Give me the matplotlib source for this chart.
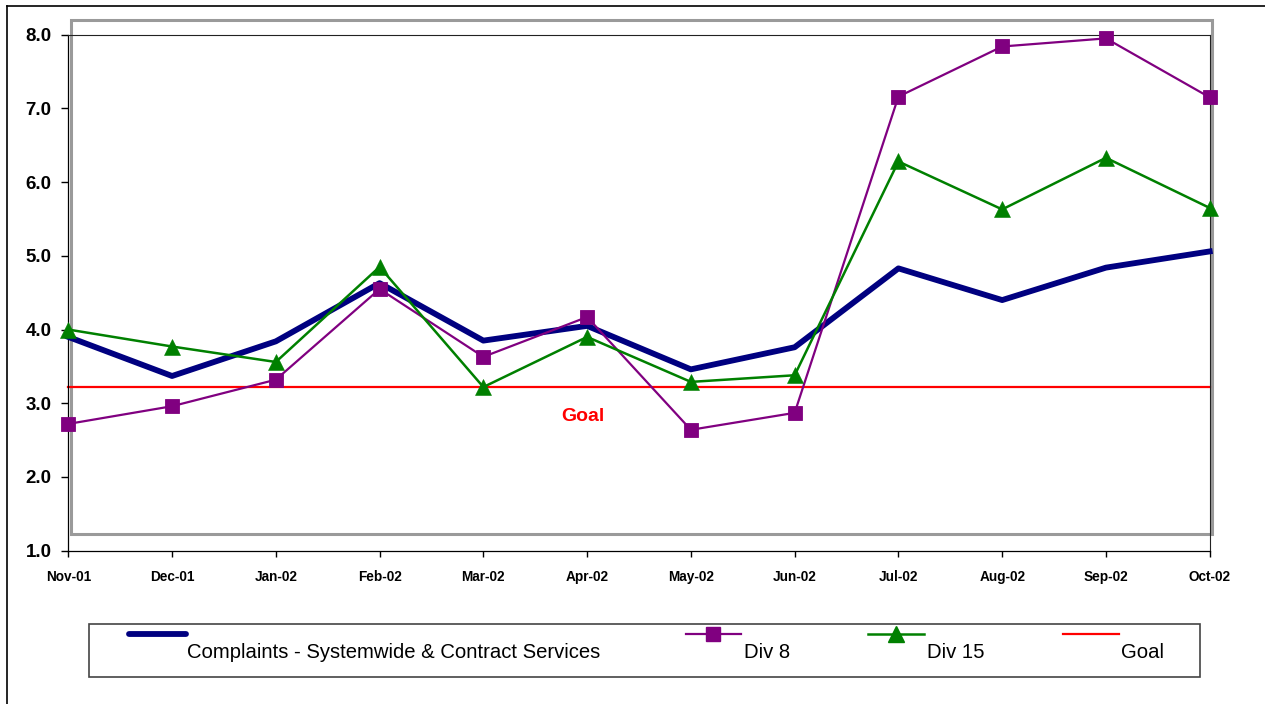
import matplotlib
matplotlib.use("Agg")
import matplotlib.pyplot as plt
from matplotlib.lines import Line2D
from matplotlib.patches import Rectangle

plt.rcParams['font.family'] = ['Liberation Sans', 'DejaVu Sans']

months = ["Nov-01", "Dec-01", "Jan-02", "Feb-02", "Mar-02", "Apr-02",
          "May-02", "Jun-02", "Jul-02", "Aug-02", "Sep-02", "Oct-02"]
systemwide = [3.90, 3.37, 3.84, 4.63, 3.85, 4.05, 3.46, 3.76, 4.83, 4.40, 4.84, 5.06]
div8 = [2.72, 2.96, 3.32, 4.55, 3.63, 4.17, 2.64, 2.87, 7.16, 7.84, 7.95, 7.15]
div15 = [4.00, 3.77, 3.56, 4.85, 3.22, 3.90, 3.29, 3.38, 6.28, 5.63, 6.33, 5.65]
goal = [3.22] * 12
yticks = [1.0, 2.0, 3.0, 4.0, 5.0, 6.0, 7.0, 8.0]

W, H = 1265, 704
fig = plt.figure(figsize=(W / 100, H / 100), dpi=100)


def fx(px):
    return px / W


def fy(py):
    return 1 - py / H


x0, x1, ytop, ybot = 68.3, 1209.7, 34.7, 550.7
ax = fig.add_axes([fx(x0), fy(ybot), fx(x1) - fx(x0), fy(ytop) - fy(ybot)])
ax.set_facecolor('none')

xs = list(range(len(months)))
ax.plot(xs, goal, color='#FF0000', lw=1.6, zorder=2, clip_on=False)
ax.plot(xs, systemwide, color='#000080', lw=4.2, solid_joinstyle='round',
        zorder=3, clip_on=False)
ax.plot(xs, div8, color='#800080', lw=1.6, marker='s', ms=9.5,
        markeredgewidth=0.6, markeredgecolor='#800080', zorder=4, clip_on=False)
ax.plot(xs, div15, color='#008000', lw=1.8, marker='^', ms=11,
        markeredgewidth=0.4, markeredgecolor='#008000', zorder=5, clip_on=False)

ax.set_xlim(0, len(months) - 1)
ax.set_ylim(1.0, 8.0)
ax.set_yticks(yticks)
ax.set_yticklabels([f"{v:.1f}" for v in yticks], fontsize=13.5, fontweight='bold')
ax.set_xticks(xs)
ax.set_xticklabels(months, fontsize=9.8, fontweight='bold')
ax.tick_params(axis='y', direction='out', length=5, width=1, pad=7)
ax.tick_params(axis='x', direction='out', length=4, width=1, pad=10)
for s in ax.spines.values():
    s.set_color('#000000')
    s.set_linewidth(0.9)
for s in ('top', 'right'):
    ax.spines[s].set_color('#222222')
    ax.spines[s].set_linewidth(0.8)

ax.text(5.0 - 0.04, 3.22 - 0.4, "Goal", color='#FF0000', fontsize=14,
        fontweight='bold', ha='center', va='center')

# grey plot-area frame
ax.add_patch(Rectangle((fx(70.5), fy(534)), fx(1211.5) - fx(70.5), fy(19.5) - fy(534),
                       transform=fig.transFigure, fill=False, edgecolor='#9a9a9a',
                       lw=2.2, clip_on=False, zorder=1))

# outer chart border (top and left edges)
fig.add_artist(Line2D([fx(7.5), 1], [fy(6), fy(6)], color='black', lw=1.2))
fig.add_artist(Line2D([fx(7.5), fx(7.5)], [fy(6), 0], color='black', lw=1.2))

# legend box
fig.add_artist(Rectangle((fx(88.5), fy(677)), fx(1200) - fx(88.5), fy(624) - fy(677),
                         transform=fig.transFigure, fill=False, edgecolor='#444444',
                         lw=1.2))
hy = fy(633.5)
ty = fy(657.8)
lfs = 14.6
fig.add_artist(Line2D([fx(128.5), fx(185.5)], [hy, hy], color='#000080', lw=4.2,
                      solid_capstyle='round'))
fig.text(fx(187), ty, "Complaints - Systemwide & Contract Services", fontsize=lfs,
         ha='left', va='baseline')
fig.add_artist(Line2D([fx(685.5), fx(713), fx(741)], [hy, hy, hy], color='#800080',
                      lw=1.6, marker='s', ms=10, markevery=[1]))
fig.text(fx(744), ty, "Div 8", fontsize=lfs, ha='left', va='baseline')
fig.add_artist(Line2D([fx(868), fx(896), fx(924)], [hy, hy, hy], color='#008000',
                      lw=1.8, marker='^', ms=11, markevery=[1]))
fig.text(fx(927), ty, "Div 15", fontsize=lfs, ha='left', va='baseline')
fig.add_artist(Line2D([fx(1063), fx(1119)], [hy, hy], color='#FF0000', lw=1.6))
fig.text(fx(1121), ty, "Goal", fontsize=lfs, ha='left', va='baseline')

fig.savefig("out.png", dpi=100)
